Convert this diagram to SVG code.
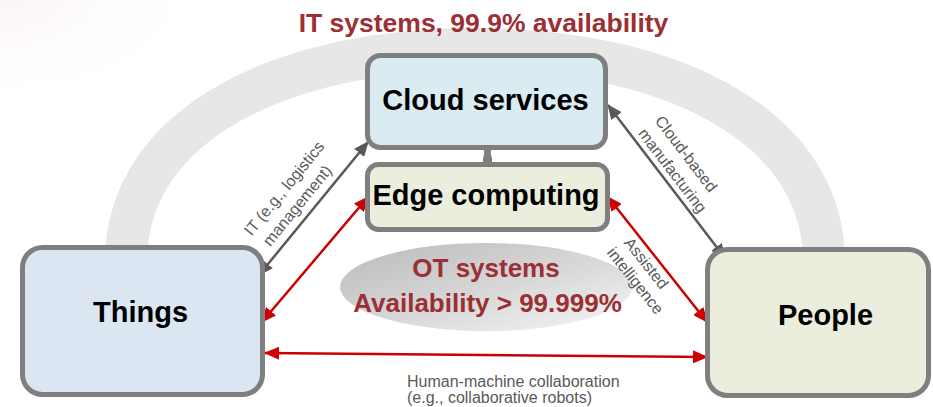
<svg xmlns="http://www.w3.org/2000/svg" width="933" height="407" viewBox="0 0 933 407">
  <defs>
    <radialGradient id="haze" cx="0" cy="0" r="1" gradientUnits="objectBoundingBox">
      <stop offset="0" stop-color="#f8e6e6" stop-opacity="0.45"/>
      <stop offset="1" stop-color="#ffffff" stop-opacity="0"/>
    </radialGradient>
    <linearGradient id="otFill" x1="0" y1="0" x2="1" y2="1">
      <stop offset="0" stop-color="#bababa"/>
      <stop offset="0.55" stop-color="#d9d9d9"/>
      <stop offset="1" stop-color="#f6f6f6"/>
    </linearGradient>
    <marker id="headGray" viewBox="0 0 15 13" refX="14" refY="6.5" markerWidth="15" markerHeight="13" markerUnits="userSpaceOnUse" orient="auto-start-reverse">
      <path d="M0,0 L15,6.5 L0,13 Z" fill="#595959"/>
    </marker>
    <marker id="headRed" viewBox="0 0 15 13" refX="14" refY="6.5" markerWidth="15" markerHeight="13" markerUnits="userSpaceOnUse" orient="auto-start-reverse">
      <path d="M0,0 L15,6.5 L0,13 Z" fill="#cc0000"/>
    </marker>
  </defs>
  <style>
    .box { stroke: #7f7f7f; stroke-width: 5; }
    .name { font-family: "Liberation Sans", Arial, sans-serif; font-weight: bold; font-size: 29px; fill: #000; text-anchor: middle; }
    .avail { font-family: "Liberation Sans", Arial, sans-serif; font-weight: bold; fill: #9c2f33; text-anchor: middle; }
    .lbl { font-family: "Liberation Sans", Arial, sans-serif; font-size: 16px; fill: #595959; }
    .link-gray { stroke: #595959; stroke-width: 2.5; fill: none; marker-start: url(#headGray); marker-end: url(#headGray); }
    .link-red { stroke: #cc0000; stroke-width: 2.5; fill: none; marker-start: url(#headRed); marker-end: url(#headRed); }
  </style>

  <rect width="933" height="407" fill="#ffffff"/>
  <rect x="0" y="0" width="220" height="110" fill="url(#haze)"/>

  <!-- IT systems arch -->
  <path d="M126,262 C126,120 290,49 475,49 C660,49 824,120 824,262" fill="none" stroke="#e7e7e7" stroke-width="42"/>
  <text class="avail" x="483.5" y="32" font-size="26.5">IT systems, 99.9% availability</text>

  <!-- OT systems ellipse -->
  <g id="ot-systems">
    <ellipse cx="486" cy="287" rx="146" ry="44" fill="url(#otFill)"/>
    <text class="avail" x="486" y="277" font-size="26">OT systems</text>
    <text class="avail" x="487.5" y="312" font-size="26">Availability &gt; 99.999%</text>
  </g>

  <!-- connectors -->
  <g id="connectors">
    <path d="M482,146 Q486,152 483,158 L483,166 L492,166 L492,158 Q489,152 493,146 Z" fill="#7f7f7f"/>
    <line class="link-gray" x1="259" y1="275" x2="368" y2="142"/>
    <line class="link-red" x1="262" y1="322" x2="368" y2="197"/>
    <line class="link-gray" x1="608" y1="105" x2="725" y2="258"/>
    <line class="link-red" x1="608" y1="197" x2="707" y2="322"/>
    <line class="link-red" x1="265" y1="353" x2="707" y2="357"/>

    <g transform="translate(313.5,208.5) rotate(-50.7)">
      <text class="lbl" x="-3" y="-30" text-anchor="middle">IT (e.g., logistics</text>
      <text class="lbl" x="-8" y="-9" text-anchor="middle">management)</text>
    </g>
    <g transform="translate(666.5,181.5) rotate(52.6)">
      <text class="lbl" x="-10" y="-27" text-anchor="middle">Cloud-based</text>
      <text class="lbl" x="-5" y="-6" text-anchor="middle">manufacturing</text>
    </g>
    <g transform="translate(657.5,259.5) rotate(51.6)">
      <text class="lbl" x="-4" y="16.5" text-anchor="middle">Assisted</text>
      <text class="lbl" x="3" y="36" text-anchor="middle">intelligence</text>
    </g>
    <text class="lbl" x="407" y="387">Human-machine collaboration</text>
    <text class="lbl" x="407" y="403">(e.g., collaborative robots)</text>
  </g>

  <!-- nodes -->
  <g id="cloud-services">
    <rect class="box" x="367.5" y="55.5" width="238" height="92" rx="13" fill="#daebf2"/>
    <text class="name" x="485.5" y="110">Cloud services</text>
  </g>
  <g id="edge-computing">
    <rect class="box" x="367.5" y="164.5" width="240" height="65" rx="11" fill="#ebeedd"/>
    <text class="name" x="486" y="205">Edge computing</text>
  </g>
  <g id="things">
    <rect class="box" x="22.5" y="247.5" width="240" height="147" rx="20" fill="#dce6f2"/>
    <text class="name" x="140.5" y="322">Things</text>
  </g>
  <g id="people">
    <rect class="box" x="707.5" y="249.5" width="221" height="146" rx="20" fill="#ebeedd"/>
    <text class="name" x="825.5" y="325">People</text>
  </g>
</svg>
